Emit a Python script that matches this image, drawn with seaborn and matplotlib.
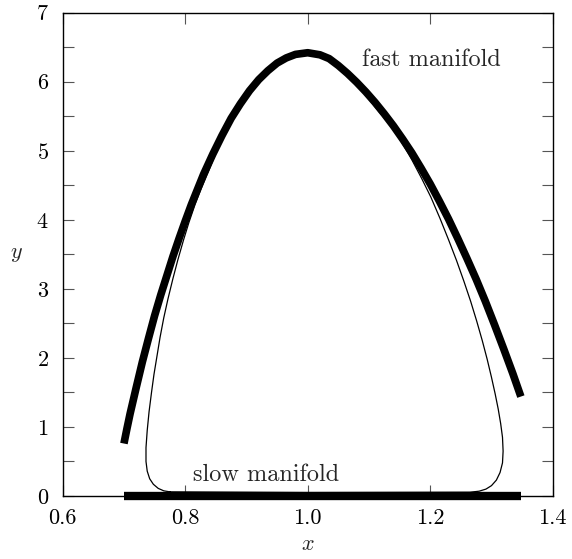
import numpy as np
import pandas as pd
import seaborn as sns
import matplotlib.pyplot as plt

# fast manifold (thick curve)
fast_x = [0.700, 0.705, 0.710, 0.715, 0.720, 0.730, 0.740, 0.750, 0.760, 0.770,
          0.780, 0.790, 0.800, 0.810, 0.820, 0.830, 0.845, 0.860, 0.875, 0.890,
          0.905, 0.920, 0.935, 0.950, 0.965, 0.980, 1.000, 1.020, 1.035, 1.050,
          1.065, 1.080, 1.095, 1.110, 1.125, 1.140, 1.155, 1.170, 1.185, 1.200,
          1.215, 1.230, 1.245, 1.260, 1.275, 1.290, 1.305, 1.320, 1.335, 1.348]
fast_y = [0.76, 0.98, 1.19, 1.38, 1.57, 1.94, 2.28, 2.61, 2.91, 3.19,
          3.47, 3.73, 3.98, 4.22, 4.44, 4.66, 4.95, 5.22, 5.47, 5.68,
          5.87, 6.03, 6.16, 6.27, 6.345, 6.396, 6.42, 6.39, 6.335, 6.235,
          6.12, 5.992, 5.852, 5.70, 5.535, 5.36, 5.17, 4.97, 4.75, 4.52,
          4.27, 4.01, 3.73, 3.44, 3.14, 2.82, 2.48, 2.13, 1.77, 1.44]

# slow manifold (thick line on y = 0)
slow_x = [0.700, 1.348]
slow_y = [0.0, 0.0]

# limit cycle (thin closed orbit)
cycle_x = [0.775, 1.000, 1.265, 1.280, 1.291, 1.300, 1.308, 1.314, 1.318, 1.319,
           1.318, 1.315, 1.311, 1.306, 1.300, 1.293, 1.285, 1.276, 1.266, 1.255,
           1.243, 1.230, 1.216, 1.201, 1.186, 1.170, 1.153, 1.135, 1.116, 1.095,
           1.080, 1.065, 1.050, 1.035, 1.018, 1.000, 0.965, 0.935, 0.905, 0.890,
           0.876, 0.862, 0.850, 0.838, 0.826, 0.816, 0.806, 0.797, 0.788, 0.780,
           0.772, 0.765, 0.759, 0.754, 0.749, 0.745, 0.741, 0.738, 0.736, 0.736,
           0.738, 0.742, 0.748, 0.756, 0.765, 0.775]
cycle_y = [0.06, 0.05, 0.055, 0.07, 0.10, 0.15, 0.23, 0.34, 0.48, 0.65,
           0.85, 1.05, 1.26, 1.48, 1.72, 1.98, 2.25, 2.53, 2.82, 3.11,
           3.41, 3.71, 4.02, 4.33, 4.60, 4.87, 5.13, 5.37, 5.57, 5.80,
           5.95, 6.08, 6.20, 6.30, 6.37, 6.40, 6.33, 6.15, 5.86, 5.67,
           5.45, 5.20, 4.97, 4.70, 4.45, 4.22, 3.96, 3.70, 3.42, 3.15,
           2.86, 2.58, 2.30, 2.03, 1.76, 1.50, 1.22, 0.95, 0.70, 0.50,
           0.36, 0.25, 0.17, 0.11, 0.075, 0.06]

sns.set_style('ticks')
plt.rcParams['font.family'] = ['cmr10', 'DejaVu Serif']
plt.rcParams['mathtext.fontset'] = 'cm'
plt.rcParams['axes.formatter.use_mathtext'] = True
plt.rcParams['axes.unicode_minus'] = False

fig = plt.figure(figsize=(5.72, 5.59), dpi=100)
ax = fig.add_axes([0.1096, 0.1127, 0.8567, 0.8646])

dfast = pd.DataFrame({'x': fast_x, 'y': fast_y})
dslow = pd.DataFrame({'x': slow_x, 'y': slow_y})
dcyc = pd.DataFrame({'x': cycle_x, 'y': cycle_y})

sns.lineplot(data=dcyc, x='x', y='y', sort=False, estimator=None, color='black',
             lw=0.9, ax=ax)
sns.lineplot(data=dfast, x='x', y='y', sort=False, estimator=None, color='black',
             lw=5.5, ax=ax, solid_capstyle='butt', solid_joinstyle='round')
sns.lineplot(data=dslow, x='x', y='y', sort=False, estimator=None, color='black',
             lw=6, ax=ax, solid_capstyle='butt', clip_on=False)

ax.text(1.089, 6.32, 'fast manifold', fontsize=17.5, va='center', ha='left')
ax.text(0.813, 0.30, 'slow manifold', fontsize=17.5, va='center', ha='left')

ax.set_xlim(0.6, 1.4)
ax.set_ylim(0, 7)
ax.set_xticks([0.6, 0.8, 1.0, 1.2, 1.4])
ax.set_xticklabels(['0.6', '0.8', '1.0', '1.2', '1.4'])
ax.set_yticks(range(8))
ax.set_yticks(np.arange(0.5, 7, 1.0), minor=True)
ax.tick_params(which='both', direction='in', length=8, width=0.8, top=True, right=True,
               labelsize=16, colors='#555555', labelcolor='black')
ax.tick_params(axis='x', pad=9)
ax.tick_params(axis='y', pad=10)
for s in ax.spines.values():
    s.set_linewidth(1.0)
    s.set_color('black')

ax.set_xlabel('$x$', fontsize=16, labelpad=5)
ax.set_ylabel('$y$', fontsize=16, rotation=0, labelpad=14, va='center')

plt.savefig('out.png', dpi=100)
